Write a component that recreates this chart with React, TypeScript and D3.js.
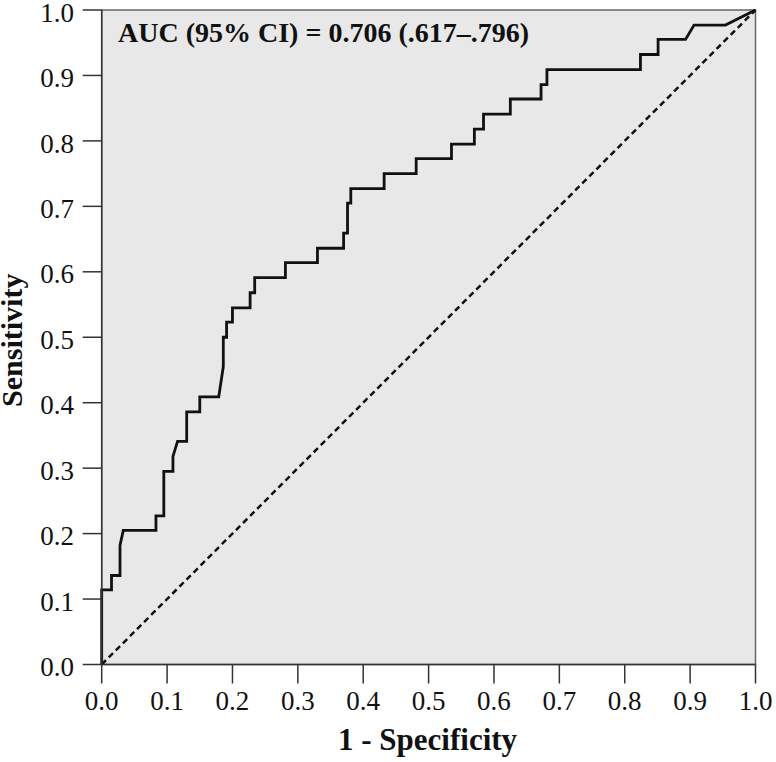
import React from "react";
import * as d3 from "d3";

const fpr = [0, 0, 0.015, 0.015, 0.028, 0.028, 0.033, 0.083, 0.083, 0.095, 0.095, 0.109, 0.109, 0.116, 0.13, 0.13, 0.15, 0.15, 0.179, 0.186, 0.186, 0.191, 0.191, 0.2, 0.2, 0.227, 0.227, 0.234, 0.234, 0.281, 0.281, 0.33, 0.33, 0.37, 0.37, 0.376, 0.376, 0.381, 0.381, 0.432, 0.432, 0.481, 0.481, 0.535, 0.535, 0.57, 0.57, 0.584, 0.584, 0.625, 0.625, 0.672, 0.672, 0.681, 0.681, 0.824, 0.824, 0.851, 0.851, 0.893, 0.906, 0.954, 1];
const sensitivity = [0, 0.114, 0.114, 0.136, 0.136, 0.182, 0.205, 0.205, 0.227, 0.227, 0.295, 0.295, 0.318, 0.341, 0.341, 0.386, 0.386, 0.409, 0.409, 0.455, 0.5, 0.5, 0.523, 0.523, 0.545, 0.545, 0.568, 0.568, 0.591, 0.591, 0.614, 0.614, 0.636, 0.636, 0.659, 0.659, 0.705, 0.705, 0.727, 0.727, 0.75, 0.75, 0.773, 0.773, 0.795, 0.795, 0.818, 0.818, 0.841, 0.841, 0.864, 0.864, 0.886, 0.886, 0.909, 0.909, 0.932, 0.932, 0.955, 0.955, 0.977, 0.977, 1];
const ticks = [0, 0.1, 0.2, 0.3, 0.4, 0.5, 0.6, 0.7, 0.8, 0.9, 1.0];
const xTitle = "1 - Specificity";
const yTitle = "Sensitivity";
const aucLabel = "AUC (95% CI) = 0.706 (.617\u2013.796)";

export default function App() {
  const left = 101.7, right = 755.5, top = 10, bottom = 664.5;
  const x = d3.scaleLinear().domain([0, 1]).range([left, right]);
  const y = d3.scaleLinear().domain([0, 1]).range([bottom, top]);
  const pts: [number, number][] = fpr.map((f, i) => [f, sensitivity[i]]);
  const line = d3.line<[number, number]>().x(d => x(d[0])).y(d => y(d[1]));
  const font = "'Liberation Serif', 'Times New Roman', serif";
  return (
    <svg width={776} height={762} style={{ position: "absolute", left: 0, top: 0, background: "#fff" }} fontFamily={font}>
      <rect x={left} y={top} width={right - left} height={bottom - top} fill="#e8e8e8" stroke="#666" strokeWidth={1.5} />
      <path d={line([[0, 0], [1, 1]]) || ""} stroke="#111" strokeWidth={2.5} strokeDasharray="6,4" fill="none" />
      <path d={line(pts) || ""} stroke="#111" strokeWidth={2.8} fill="none" strokeLinejoin="miter" />
      <line x1={left} x2={left} y1={top} y2={bottom} stroke="#333" strokeWidth={1.5} />
      <line x1={left} x2={right} y1={bottom} y2={bottom} stroke="#333" strokeWidth={1.5} />
      {ticks.map(t => (
        <g key={"x" + t}>
          <line x1={x(t)} x2={x(t)} y1={bottom} y2={bottom + 19} stroke="#333" strokeWidth={1.5} />
          <text x={x(t)} y={bottom + 45.5} fontSize={27} textAnchor="middle" fill="#111">{t.toFixed(1)}</text>
        </g>
      ))}
      {ticks.map(t => (
        <g key={"y" + t}>
          <line x1={left - 19} x2={left} y1={y(t)} y2={y(t)} stroke="#333" strokeWidth={1.5} />
          <text x={74} y={y(t)} dy="0.43em" fontSize={27} textAnchor="end" fill="#111">{t.toFixed(1)}</text>
        </g>
      ))}
      <text x={(left + right) / 2 - 1} y={750} fontSize={31} fontWeight="bold" textAnchor="middle" fill="#111">{xTitle}</text>
      <text transform={`translate(22, ${(top + bottom) / 2 + 3}) rotate(-90)`} fontSize={30} fontWeight="bold" textAnchor="middle" fill="#111">{yTitle}</text>
      <text x={118} y={42} fontSize={28} fontWeight="bold" fill="#111">{aucLabel}</text>
    </svg>
  );
}
